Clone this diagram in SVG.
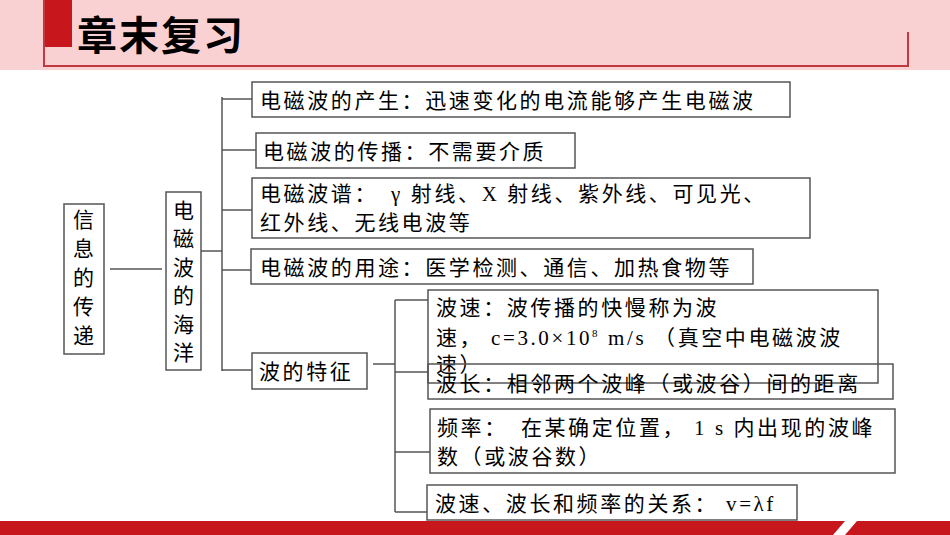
<svg xmlns="http://www.w3.org/2000/svg" width="950" height="535" viewBox="0 0 950 535">
<style>
.b{fill:#fff;stroke:#555;stroke-width:1.5}
.t{font-family:"Liberation Serif","Noto Sans CJK SC",serif;font-size:21px;letter-spacing:2.6px;fill:#000}
.v{font-family:"Noto Sans CJK SC",serif;font-size:21px;fill:#000}
.c line{stroke:#555;stroke-width:1.5}
</style>
<rect x="0" y="0" width="950" height="70" fill="#fad1d3"/>
<rect x="44" y="0" width="28" height="47" fill="#c8161d"/>
<path d="M44 0V66H908V32" fill="none" stroke="#c0393f" stroke-width="2"/>
<text x="77" y="50" font-family="Noto Sans CJK SC,sans-serif" font-weight="bold" font-size="40" letter-spacing="2">章末复习</text>
<path d="M0 521H845L833 535H0Z" fill="#c8161d"/>
<path d="M857 521H950V535H845Z" fill="#c8161d"/>
<g class="c">
<line x1="110" y1="269" x2="162" y2="269"/>
<line x1="201" y1="251" x2="222" y2="251"/>
<line x1="222" y1="97" x2="222" y2="371"/>
<line x1="222" y1="99" x2="252" y2="99"/>
<line x1="222" y1="150" x2="256" y2="150"/>
<line x1="222" y1="210" x2="252" y2="210"/>
<line x1="222" y1="270" x2="251" y2="270"/>
<line x1="222" y1="370" x2="252" y2="370"/>
<line x1="373" y1="364" x2="395" y2="364"/>
<line x1="395" y1="300" x2="395" y2="512"/>
<line x1="395" y1="300" x2="428" y2="300"/>
<line x1="395" y1="372" x2="428" y2="372"/>
<line x1="395" y1="452" x2="430" y2="452"/>
<line x1="395" y1="512" x2="427" y2="512"/>
</g>
<g id="n1"><rect class="b" x="64" y="204" width="40" height="150"/>
<text class="v"><tspan x="73" y="227">信</tspan><tspan x="73" y="256">息</tspan><tspan x="73" y="285">的</tspan><tspan x="73" y="314">传</tspan><tspan x="73" y="343">递</tspan></text></g>
<g id="n2"><rect class="b" x="166" y="192" width="35" height="178"/>
<text class="v"><tspan x="173" y="218">电</tspan><tspan x="173" y="246">磁</tspan><tspan x="173" y="275">波</tspan><tspan x="173" y="303">的</tspan><tspan x="173" y="332">海</tspan><tspan x="173" y="360">洋</tspan></text></g>
<g id="n3"><rect class="b" x="252" y="82" width="538" height="35"/><text class="t" x="260" y="108">电磁波的产生：迅速变化的电流能够产生电磁波</text></g>
<g id="n4"><rect class="b" x="256" y="133" width="319" height="35"/><text class="t" x="263" y="159">电磁波的传播：不需要介质</text></g>
<g id="n5"><rect class="b" x="252" y="178" width="558" height="60"/><text class="t"><tspan x="260" y="201">电磁波谱：　γ 射线、X 射线、紫外线、可见光、</tspan><tspan x="260" y="230">红外线、无线电波等</tspan></text></g>
<g id="n6"><rect class="b" x="251" y="249" width="502" height="35"/><text class="t" x="260" y="275">电磁波的用途：医学检测、通信、加热食物等</text></g>
<g id="n7"><rect class="b" x="252" y="353" width="115" height="36"/><text class="t" x="259" y="379">波的特征</text></g>
<g id="n8"><rect class="b" x="428" y="290" width="450" height="93" style="fill:none"/><text class="t"><tspan x="436" y="315">波速：波传播的快慢称为波</tspan><tspan x="436" y="345">速， c=3.0×10<tspan font-size="11" dy="-8">8</tspan><tspan dy="8"> m/s （真空中电磁波波</tspan></tspan><tspan x="436" y="372">速）</tspan></text></g>
<g id="n9"><rect class="b" x="428" y="364" width="465" height="35" style="fill:none"/><text class="t" x="436" y="391">波长：相邻两个波峰（或波谷）间的距离</text></g>
<g id="n10"><rect class="b" x="430" y="409" width="465" height="64"/><text class="t"><tspan x="437" y="435">频率：　在某确定位置， 1 s 内出现的波峰</tspan><tspan x="437" y="464">数（或波谷数）</tspan></text></g>
<g id="n11"><rect class="b" x="427" y="485" width="370" height="35"/><text class="t" x="435" y="511">波速、波长和频率的关系： v=λf</text></g>
</svg>
